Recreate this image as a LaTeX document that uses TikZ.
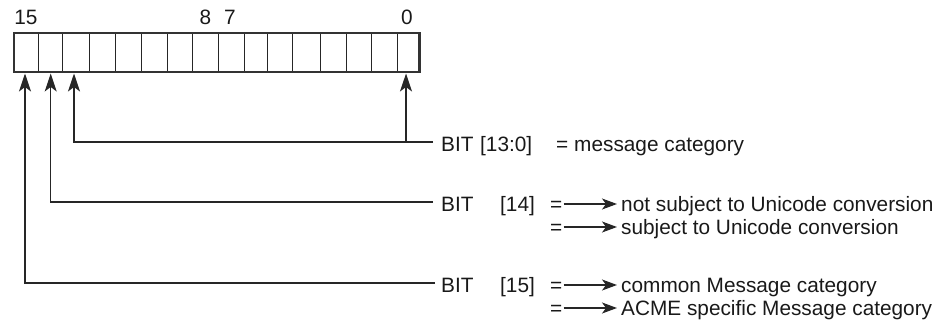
\documentclass[tikz,border=0pt]{standalone}
\usepackage{fontspec}
\setmainfont{Liberation Sans}
\usetikzlibrary{arrows.meta}
\begin{document}
\begin{tikzpicture}[x=1pt,y=-1pt,
  lbl/.style={inner sep=0pt, anchor=base west, font=\fontsize{20.8}{24}\selectfont, text=black!90},
  num/.style={lbl, anchor=base},
  conn/.style={line width=1.2pt, draw=black!85},
  up/.style={conn, -{Stealth[length=18pt,width=12pt,inset=4.5pt]}},
  rarr/.style={line width=1.3pt, draw=black!85, -{Stealth[length=15pt,width=11pt,inset=4pt]}},
  cellline/.style={line width=1pt, draw=black!85},
  frame/.style={line width=2.4pt, draw=black!80}]
\useasboundingbox (0,0) rectangle (944,324);
% register
\draw[cellline] foreach \x in {38.3,62.7,89.3,115.7,141.7,167.3,192.7,218.3,244,267.3,292.7,320.7,346,371.7,397.3} {(\x,33.5) -- (\x,71.5)};
\draw[frame] (14,33) rectangle (419.5,72);
% bit numbers
\node[num] (n15) at (26,24) {15};
\node[num] (n8) at (205.5,24) {8};
\node[num] (n7) at (230,24) {7};
\node[num] (n0) at (407,24) {0};
% arrow tips
\coordinate (t15) at (25,73.5);
\coordinate (t14) at (50.7,73.5);
\coordinate (t13) at (74,73.5);
\coordinate (t0) at (406,73.5);
% row 1
\node[lbl] (bit13) at (441,151) {BIT};
\node[lbl] (r13) at (480,151) {[13:0]};
\node[lbl] (eq13) at (556,151) {=};
\node[lbl] (m13) at (574,151) {message category};
\coordinate (e13) at (433,142);
\coordinate (j0) at (406,142);
\draw[up] (e13) -| (t13);
\draw[up] (j0) -- (t0);
% row 2
\node[lbl] (bit14) at (441,211) {BIT};
\node[lbl] (r14) at (500,211) {[14]};
\node[lbl] (eq14a) at (550,211) {=};
\node[lbl] (m14a) at (621,211) {not subject to Unicode conversion};
\node[lbl] (eq14b) at (550,234) {=};
\node[lbl] (m14b) at (621,234) {subject to Unicode conversion};
\coordinate (e14) at (433,202);
\draw[up] (e14) -| (t14);
\draw[rarr] ([xshift=1pt,yshift=7pt]eq14a.base east) -- ([xshift=-4pt,yshift=7pt]eq14a.base east -| m14a.west);
\draw[rarr] ([xshift=1pt,yshift=7pt]eq14b.base east) -- ([xshift=-4pt,yshift=7pt]eq14b.base east -| m14b.west);
% row 3
\node[lbl] (bit15) at (441,292) {BIT};
\node[lbl] (r15) at (500,292) {[15]};
\node[lbl] (eq15a) at (550,292) {=};
\node[lbl] (m15a) at (621,292) {common Message category};
\node[lbl] (eq15b) at (550,315) {=};
\node[lbl] (m15b) at (621,315) {ACME specific Message category};
\coordinate (e15) at (435,283);
\draw[up] (e15) -| (t15);
\draw[rarr] ([xshift=1pt,yshift=7pt]eq15a.base east) -- ([xshift=-4pt,yshift=7pt]eq15a.base east -| m15a.west);
\draw[rarr] ([xshift=1pt,yshift=7pt]eq15b.base east) -- ([xshift=-4pt,yshift=7pt]eq15b.base east -| m15b.west);
\end{tikzpicture}
\end{document}
